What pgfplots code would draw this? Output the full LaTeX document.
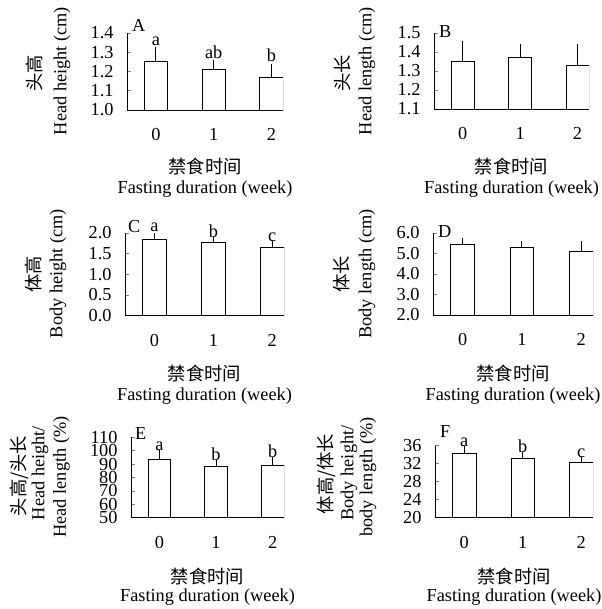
\documentclass[border=0pt]{standalone}
\usepackage{fontspec}
\setmainfont{Liberation Serif}
\newfontfamily\cjk{Noto Sans CJK SC}
\usepackage{pgfplots}
\pgfplotsset{compat=1.18}
\usepackage{pgfplotstable}
\newcommand\F{\fontsize{18.3bp}{22bp}\selectfont}

\pgfplotstableread{
x y e lab
0 1.25 0.075 a
1 1.21 0.05 ab
2 1.17 0.07 b
}\dataA
\pgfplotstableread{
x y e
0 1.35 0.11
1 1.37 0.07
2 1.33 0.11
}\dataB
\pgfplotstableread{
x y e lab
0 1.85 0.13 a
1 1.77 0.08 b
2 1.65 0.10 c
}\dataC
\pgfplotstableread{
x y e
0 5.42 0.23
1 5.28 0.21
2 5.09 0.41
}\dataD
\pgfplotstableread{
x y e lab
0 93.6 5.2 a
1 88.4 3.2 b
2 88.8 4.8 b
}\dataE
\pgfplotstableread{
x y e lab
0 34.4 1.0 a
1 33.2 0.95 b
2 32.3 0.75 c
}\dataF

\pgfplotsset{
  panel/.style={
    scale only axis, anchor=south west,
    axis lines*=left, axis line style={-, line width=1bp},
    xmin=-0.5, xmax=2.2, xtick={0,1,2}, xtick style={draw=none},
    tick align=inside, major tick length=3.5bp, ytick style={line width=0.8bp},
    enlargelimits=false, axis on top,
    /pgf/number format/assume math mode=true,
    tick label style={font=\F},
    xticklabel style={yshift=-15bp},
    yticklabel style={xshift=-10bp},
    nodes near coords style={font=\F, inner sep=1.5bp},
  },
  onedec/.style={yticklabel style={/pgf/number format/fixed, /pgf/number format/fixed zerofill, /pgf/number format/precision=1}},
  bars/.style={ybar, bar width=0.4, draw=black, fill=white, line width=0.8bp,
    error bars/y dir=plus, error bars/y explicit,
    error bars/error bar style={line width=0.8bp, black}},
  capped/.style={error bars/error mark options={mark size=2bp, line width=0.8bp, black}},
  nocap/.style={error bars/error mark=none},
  letters/.style={draw=none, mark=none, nodes near coords, point meta=explicit symbolic},
}

\begin{document}
\begin{tikzpicture}
\useasboundingbox (0,0) rectangle (602bp,-609bp);

% A
\begin{axis}[panel, onedec, at={(127bp,-110bp)}, width=156bp, height=77bp,
  ymin=1.0, ymax=1.4, ytick={1.0,1.1,1.2,1.3,1.4}]
\addplot[bars, nocap] table[x=x, y=y, y error=e] {\dataA};
\addplot[letters] table[x=x, y expr=\thisrow{y}+\thisrow{e}, meta=lab] {\dataA};
\end{axis}

% B
\begin{axis}[panel, onedec, at={(434bp,-109bp)}, width=155bp, height=76bp,
  ymin=1.1, ymax=1.5, ytick={1.1,1.2,1.3,1.4,1.5}]
\addplot[bars, nocap] table[x=x, y=y, y error=e] {\dataB};
\end{axis}

% C
\begin{axis}[panel, onedec, at={(125bp,-315.7bp)}, width=159bp, height=82.7bp,
  ymin=0, ymax=2.0, ytick={0,0.5,1.0,1.5,2.0}]
\addplot[bars, capped] table[x=x, y=y, y error=e] {\dataC};
\addplot[letters] table[x=x, y expr=\thisrow{y}+\thisrow{e}, meta=lab] {\dataC};
\end{axis}

% D
\begin{axis}[panel, onedec, at={(433bp,-315bp)}, width=160bp, height=82bp,
  ymin=2, ymax=6, ytick={2,3,4,5,6}]
\addplot[bars, capped] table[x=x, y=y, y error=e] {\dataD};
\end{axis}

% E
\begin{axis}[panel, at={(131bp,-517.7bp)}, width=153bp, height=80.4bp,
  ymin=50, ymax=110, ytick={50,60,70,80,90,100,110}]
\addplot[bars, capped] table[x=x, y=y, y error=e] {\dataE};
\addplot[letters] table[x=x, y expr=\thisrow{y}+\thisrow{e}, meta=lab] {\dataE};
\end{axis}

% F
\begin{axis}[panel, at={(435bp,-517.7bp)}, width=158bp, height=72bp,
  ymin=20, ymax=36, ytick={20,24,28,32,36}]
\addplot[bars, capped] table[x=x, y=y, y error=e] {\dataF};
\addplot[letters] table[x=x, y expr=\thisrow{y}+\thisrow{e}, meta=lab] {\dataF};
\end{axis}

% panel letters
\begin{scope}[every node/.style={font=\F, inner sep=0pt, anchor=base west}]
\node at (132bp,-31bp) {A};
\node at (439bp,-37bp) {B};
\node at (128bp,-232bp) {C};
\node at (438bp,-237bp) {D};
\node at (135bp,-439bp) {E};
\node at (440bp,-437bp) {F};
\end{scope}

% y labels
\begin{scope}[every node/.style={font=\F, inner sep=0pt, rotate=90, anchor=center}]
\node at (35bp,-73bp) {\cjk 头高};
\node at (62bp,-71bp) {Head height (cm)};
\node at (343bp,-73bp) {\cjk 头长};
\node at (367bp,-71bp) {Head length (cm)};
\node at (34bp,-274bp) {\cjk 体高};
\node at (58bp,-273.5bp) {Body height (cm)};
\node at (342bp,-274bp) {\cjk 体长};
\node at (367bp,-274bp) {Body length (cm)};
\node at (19bp,-476bp) {\cjk 头高/头长};
\node at (40bp,-473bp) {Head height/};
\node at (61.5bp,-477bp) {Head length (\%)};
\node at (326bp,-474bp) {\cjk 体高/体长};
\node at (349bp,-473bp) {Body height/};
\node at (368bp,-477bp) {body length (\%)};
\end{scope}

% x labels
\begin{scope}[every node/.style={font=\F, inner sep=0pt, anchor=center}]
\node at (205bp,-166.5bp) {\cjk 禁食时间};
\node at (205bp,-189bp) {Fasting duration (week)};
\node at (511.5bp,-166.5bp) {\cjk 禁食时间};
\node at (511.5bp,-189bp) {Fasting duration (week)};
\node at (204.5bp,-373.5bp) {\cjk 禁食时间};
\node at (204.5bp,-396bp) {Fasting duration (week)};
\node at (513bp,-373.5bp) {\cjk 禁食时间};
\node at (513bp,-396bp) {Fasting duration (week)};
\node at (207.5bp,-576.5bp) {\cjk 禁食时间};
\node at (207.5bp,-597.5bp) {Fasting duration (week)};
\node at (514bp,-576.5bp) {\cjk 禁食时间};
\node at (514bp,-597.5bp) {Fasting duration (week)};
\end{scope}
\end{tikzpicture}
\end{document}
